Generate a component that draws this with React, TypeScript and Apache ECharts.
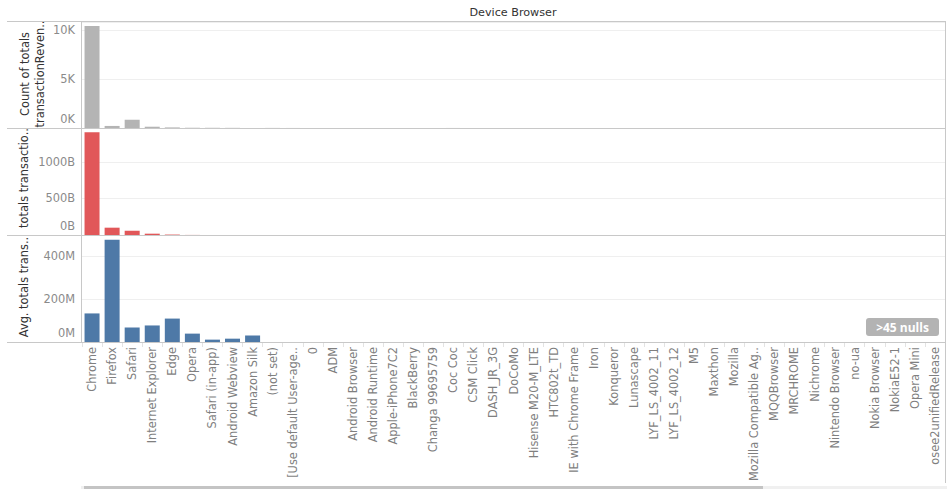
import React, { useEffect, useRef } from "react";
import * as echarts from "echarts";

const categories = [
  "Chrome", "Firefox", "Safari", "Internet Explorer", "Edge", "Opera", "Safari (in-app)",
  "Android Webview", "Amazon Silk", "(not set)", "[Use default User-age..", "0", "ADM",
  "Android Browser", "Android Runtime", "Apple-iPhone7C2", "BlackBerry", "Changa 99695759",
  "Coc Coc", "CSM Click", "DASH_JR_3G", "DoCoMo", "Hisense M20-M_LTE", "HTC802t_TD",
  "IE with Chrome Frame", "Iron", "Konqueror", "Lunascape", "LYF_LS_4002_11", "LYF_LS_4002_12",
  "M5", "Maxthon", "Mozilla", "Mozilla Compatible Ag..", "MQQBrowser", "MRCHROME", "Nichrome",
  "Nintendo Browser", "no-ua", "Nokia Browser", "NokiaE52-1", "Opera Mini", "osee2unifiedRelease",
];

// Count of totals.transactionRevenue
const countValues = [
  10400, 210, 850, 130, 60, 25, 20, 15, 10, 8, 4, 2, 1,
  3, 2, 1, 2, 1, 4, 1, 1, 1, 1, 1,
  1, 2, 1, 1, 1, 1, 1, 3, 2, 1, 2, 1, 1,
  1, 2, 1, 1, 3, 1,
];

// Sum of totals.transactionRevenue (billions)
const revenueSumB = [
  1403, 100, 59, 18, 6, 1, 0.2, 0.2, 0.3,
];

// Avg. totals.transactionRevenue (millions)
const avgRevenueM = [
  133, 476, 67, 77, 109, 39, 11, 15.5, 30,
];

const pad = (arr: number[]) =>
  categories.map((_, i) => (i < arr.length ? arr[i] : null));

const FONT = "DejaVu Sans";
const FS = 11.4;
const LINE = "#c8c8c8";
const TICK_COLOR = "#8a8a8a";

export default function App() {
  const ref = useRef<HTMLDivElement>(null);

  useEffect(() => {
    if (!ref.current) return;
    const chart = echarts.init(ref.current, undefined, { renderer: "svg" });

    const grids = [
      { left: 82, right: 2, top: 22, height: 106 },
      { left: 82, right: 2, top: 128, height: 107 },
      { left: 82, right: 2, top: 235, height: 107 },
    ];

    const yBase = (max: number, interval: number, unit: string, div: number, gi: number) => ({
      type: "value",
      gridIndex: gi,
      min: 0,
      max,
      interval,
      axisLine: { show: false },
      axisTick: { show: false },
      splitLine: { show: true, lineStyle: { color: "#efefef", width: 1 } },
      axisLabel: {
        color: TICK_COLOR,
        fontFamily: FONT,
        fontSize: FS,
        margin: 7,
        showMaxLabel: false,
        verticalAlignMinLabel: "bottom",
        formatter: (v: number) =>
          v === 0 ? `{z|0${unit}}` : `${v / div}${unit}`,
        rich: {
          z: {
            color: TICK_COLOR,
            fontFamily: FONT,
            fontSize: FS,
            padding: [0, 0, 4, 0],
          },
        },
      },
    });

    const xBase = (gi: number, showLabels: boolean) => ({
      type: "category",
      gridIndex: gi,
      data: categories,
      axisLine: { show: false },
      axisTick: showLabels
        ? { show: true, length: 5, interval: 0, lineStyle: { color: "#e3e3e3" } }
        : { show: false },
      axisLabel: showLabels
        ? {
            show: true,
            interval: 0,
            rotate: 90,
            margin: 5,
            color: "#7f7f7f",
            fontFamily: FONT,
            fontSize: FS,
          }
        : { show: false },
    });

    const hLine = (y: number) => ({
      type: "line",
      shape: { x1: 7, y1: y + 0.5, x2: 946, y2: y + 0.5 },
      style: { stroke: LINE, lineWidth: 1 },
      z: 100,
    });

    const vText = (text: string, x: number, y: number) => ({
      type: "text",
      x,
      y,
      rotation: Math.PI / 2,
      style: {
        text,
        fill: "#333333",
        font: `${FS}px '${FONT}'`,
        align: "center",
        verticalAlign: "middle",
      },
    });

    chart.setOption({
      animation: false,
      backgroundColor: "#ffffff",
      grid: grids,
      xAxis: [xBase(0, false), xBase(1, false), xBase(2, true)],
      yAxis: [
        yBase(10800, 5000, "K", 1000, 0),
        yBase(1462, 500, "B", 1, 1),
        yBase(498, 200, "M", 1, 2),
      ],
      series: [
        {
          type: "bar",
          xAxisIndex: 0,
          yAxisIndex: 0,
          data: pad(countValues),
          barWidth: 15,
          itemStyle: { color: "#b4b4b4" },
        },
        {
          type: "bar",
          xAxisIndex: 1,
          yAxisIndex: 1,
          data: pad(revenueSumB),
          barWidth: 15,
          itemStyle: { color: "#e15759" },
        },
        {
          type: "bar",
          xAxisIndex: 2,
          yAxisIndex: 2,
          data: pad(avgRevenueM),
          barWidth: 15,
          itemStyle: { color: "#4e79a7" },
        },
      ],
      graphic: [
        {
          type: "text",
          x: 513,
          y: 12,
          style: {
            text: "Device Browser",
            fill: "#333333",
            font: `11.2px '${FONT}'`,
            align: "center",
            verticalAlign: "middle",
          },
        },
        hLine(21),
        hLine(128),
        hLine(235),
        hLine(342),
        {
          type: "line",
          shape: { x1: 81.5, y1: 21, x2: 81.5, y2: 342 },
          style: { stroke: LINE, lineWidth: 1 },
          z: 100,
        },
        {
          type: "line",
          shape: { x1: 945.5, y1: 21, x2: 945.5, y2: 483 },
          style: { stroke: LINE, lineWidth: 1 },
          z: 100,
        },
        vText("Count of totals", 25, 74),
        vText("transactionReven..", 40, 74),
        vText("totals transactio..", 24, 178),
        vText("Avg. totals trans..", 24, 287),
        {
          type: "rect",
          shape: { x: 866, y: 318, width: 73, height: 18, r: 3 },
          style: { fill: "#b3b3b3" },
          z: 100,
        },
        {
          type: "text",
          x: 902.5,
          y: 327,
          z: 101,
          style: {
            text: ">45 nulls",
            fill: "#ffffff",
            font: `bold 12px 'Open Sans'`,
            align: "center",
            verticalAlign: "middle",
          },
        },
        {
          type: "rect",
          shape: { x: 81, y: 486, width: 866, height: 3 },
          style: { fill: "#f0f0f0" },
        },
        {
          type: "rect",
          shape: { x: 84, y: 486, width: 679, height: 3 },
          style: { fill: "#c4c4c4" },
        },
      ],
    });

    return () => chart.dispose();
  }, []);

  return (
    <div
      ref={ref}
      style={{ position: "fixed", left: 0, top: 0, width: 947, height: 489 }}
    />
  );
}
